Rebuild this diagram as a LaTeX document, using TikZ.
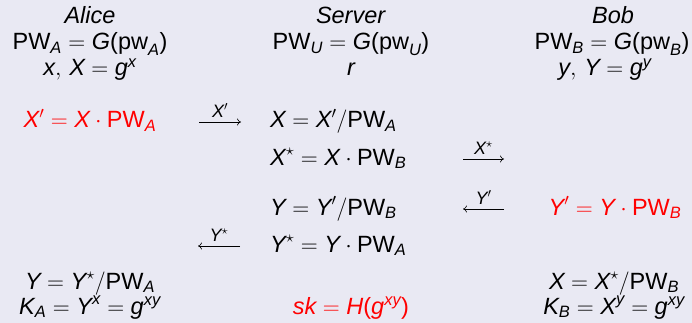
\RequirePackage{fix-cm}
\documentclass[tikz,border=0pt]{standalone}
\usepackage{amsmath}
\usepackage{fontspec}
\setmainfont{Liberation Sans}
\usetikzlibrary{arrows.meta}

\definecolor{slidebg}{RGB}{233,233,243}
\newcommand{\vv}[1]{\textit{#1}}
\newcommand{\up}[1]{\textup{#1}}

\begin{document}
\begin{tikzpicture}[x=1pt,y=-1pt,
    txt/.style={inner sep=0pt,font=\fontsize{23.5}{25}\selectfont,anchor=base,align=center},
    key/.style={txt,text=red},
    msg/.style={-{To[length=4pt,width=7pt]},line width=0.6pt},
    lbl/.style={above=4pt,inner sep=0pt,font=\fontsize{18}{20}\selectfont}]

    % Slide background
    \fill[slidebg] (0,0) rectangle (692,323);
    \useasboundingbox (0,0) rectangle (692,323);

    % Alice
    \node[txt] (aname) at (90,24) {\textit{Alice}};
    \node[txt] (apw) at (90,50) {$\up{PW}_{\vv{A}} = \vv{G}\text{(}\up{pw}_{\vv{A}}\text{)}$};
    \node[txt] (ax) at (90,76) {$\vv{x},\, \vv{X} = \vv{g}^{\vv{x}}$};
    \node[key] (aXp) at (90,128) {$\vv{X}' = \vv{X}\cdot\up{PW}_{\vv{A}}$};
    \node[txt] (aK) at (90,314) {$\vv{Y} = \vv{Y}^{\star}/\up{PW}_{\vv{A}}$\\
        $\vv{K}_{\vv{A}} = \vv{Y}^{\vv{x}} = \vv{g}^{\vv{xy}}$};

    % Server
    \node[txt] (sname) at (351,24) {\textit{Server}};
    \node[txt] (spw) at (351,50) {$\up{PW}_{\vv{U}} = \vv{G}\text{(}\up{pw}_{\vv{U}}\text{)}$};
    \node[txt] (sr) at (351,76) {$\vv{r}$};
    \node[txt,anchor=base west] (sX) at (270,128) {$\vv{X} = \vv{X}'/\up{PW}_{\vv{A}}$};
    \node[txt,anchor=base west] (sXs) at (270,165) {$\vv{X}^{\star} = \vv{X}\cdot\up{PW}_{\vv{B}}$};
    \node[txt,anchor=base west] (sY) at (270,215) {$\vv{Y} = \vv{Y}'/\up{PW}_{\vv{B}}$};
    \node[txt,anchor=base west] (sYs) at (270,252) {$\vv{Y}^{\star} = \vv{Y}\cdot\up{PW}_{\vv{A}}$};
    \node[key] (ssk) at (351,314) {$\vv{sk} = \vv{H}\text{(}\vv{g}^{\vv{xy}}\text{)}$};

    % Bob
    \node[txt] (bname) at (613,24) {\textit{Bob}};
    \node[txt] (bpw) at (612,50) {$\up{PW}_{\vv{B}} = \vv{G}\text{(}\up{pw}_{\vv{B}}\text{)}$};
    \node[txt] (by) at (605,76) {$\vv{y},\, \vv{Y} = \vv{g}^{\vv{y}}$};
    \node[key] (bYp) at (615,215) {$\vv{Y}' = \vv{Y}\cdot\up{PW}_{\vv{B}}$};
    \node[txt] (bK) at (614,314) {$\vv{X} = \vv{X}^{\star}/\up{PW}_{\vv{B}}$\\
        $\vv{K}_{\vv{B}} = \vv{X}^{\vv{y}} = \vv{g}^{\vv{xy}}$};

    % Messages
    \coordinate (m1a) at (199,122);
    \coordinate (m1b) at (241,122);
    \coordinate (m2a) at (463,159);
    \coordinate (m2b) at (504,159);
    \coordinate (m3a) at (504,209);
    \coordinate (m3b) at (463,209);
    \coordinate (m4a) at (240,246);
    \coordinate (m4b) at (198,246);
    \draw[msg] (m1a) -- node[lbl] {$\vv{X}'$} (m1b);
    \draw[msg] (m2a) -- node[lbl] {$\vv{X}^{\star}$} (m2b);
    \draw[msg] (m3a) -- node[lbl] {$\vv{Y}'$} (m3b);
    \draw[msg] (m4a) -- node[lbl] {$\vv{Y}^{\star}$} (m4b);

\end{tikzpicture}
\end{document}
